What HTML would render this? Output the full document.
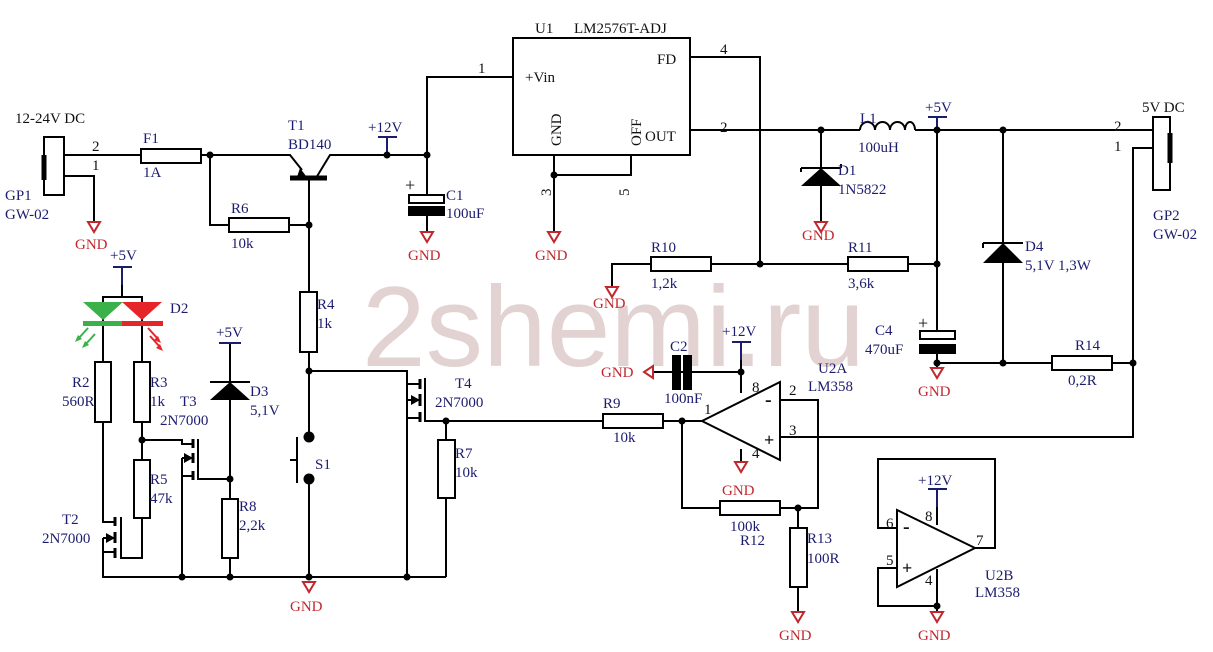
<!DOCTYPE html>
<html><head><meta charset="utf-8"><style>
html,body{margin:0;padding:0;background:#fff}
svg{display:block}
text{font-family:"Liberation Serif",serif;font-size:15px;fill:#1c1c6e}
.g{fill:#c0282d}
.k{fill:#111}
</style></head><body>
<svg width="1213" height="652" viewBox="0 0 1213 652" xmlns="http://www.w3.org/2000/svg">
<text x="362" y="366" textLength="503" lengthAdjust="spacingAndGlyphs" style="font-family:'Liberation Sans',sans-serif;font-size:114px;fill:#e2d2d2">2shemi.ru</text>
<g stroke="#000" stroke-width="2" fill="none">
<!-- GP1 -->
<rect x="44" y="137" width="20" height="58" fill="#fff"/>
<line x1="44" y1="155" x2="44" y2="180" stroke-width="5"/>
<polyline points="64,155 141,155"/>
<polyline points="64,176 94,176 94,222"/>
<rect x="141" y="149" width="60" height="14" fill="#fff"/>
<polyline points="201,155 290,155 302,170"/>
<polyline points="210,155 210,225 229,225"/>
<rect x="229" y="218" width="60" height="14" fill="#fff"/>
<polyline points="289,225 309,225"/>
<line x1="290" y1="178" x2="327" y2="178" stroke-width="5"/>
<polyline points="316,178 330,155 427,155"/>
<polyline points="309,178 309,292"/>
<rect x="300" y="292" width="17" height="60" fill="#fff"/>
<polyline points="309,352 309,437"/>
<polyline points="309,479 309,577"/>
<polyline points="297,437 297,483"/><polyline points="290,460 297,460"/>
<polyline points="387,137 387,155"/>
<polyline points="427,195 427,155 427,77 513,77"/>
<polyline points="427,215 427,232"/>
<rect x="409" y="195" width="35" height="8" fill="#fff"/>
<rect x="409" y="207" width="35" height="8" fill="#000"/>
<!-- T4 -->
<polyline points="309,371 407,371 407,384 420,384"/>
<polyline points="407,384 407,577"/>
<polyline points="407,400 420,400"/>
<polyline points="407,418 420,418"/>
<line x1="420" y1="379" x2="420" y2="389" stroke-width="3"/>
<line x1="420" y1="394" x2="420" y2="406" stroke-width="3"/>
<line x1="420" y1="412" x2="420" y2="422" stroke-width="3"/>
<polyline points="425,378 425,421 603,421"/>
<polyline points="446,421 446,440"/>
<rect x="438" y="440" width="17" height="58" fill="#fff"/>
<polyline points="446,498 446,577"/>
<rect x="603" y="414" width="60" height="14" fill="#fff"/>
<polyline points="663,421 702,421"/>
<!-- bottom rail -->
<polyline points="102,577 446,577"/>
<!-- D2 / R2 R3 -->
<polyline points="122,267 122,297"/>
<polyline points="103,305 103,297 142,297 142,305"/>
<polyline points="103,318 103,362"/>
<polyline points="142,318 142,362"/>
<rect x="95" y="362" width="16" height="60" fill="#fff"/>
<rect x="134" y="362" width="16" height="60" fill="#fff"/>
<polyline points="103,422 103,522 115,522"/>
<polyline points="103,538 115,538"/>
<polyline points="103,552 115,552"/>
<polyline points="103,538 103,577"/>
<line x1="115" y1="517" x2="115" y2="526" stroke-width="3"/>
<line x1="115" y1="532" x2="115" y2="543" stroke-width="3"/>
<line x1="115" y1="548" x2="115" y2="558" stroke-width="3"/>
<polyline points="121,517 121,558 142,558 142,518"/>
<polyline points="142,422 142,460"/>
<rect x="134" y="460" width="16" height="58" fill="#fff"/>
<!-- T3 -->
<polyline points="142,440 182,440 182,444 193,444"/>
<polyline points="182,458 193,458"/>
<polyline points="182,476 193,476"/>
<polyline points="182,458 182,577"/>
<line x1="193" y1="439" x2="193" y2="448" stroke-width="3"/>
<line x1="193" y1="453" x2="193" y2="463" stroke-width="3"/>
<line x1="193" y1="471" x2="193" y2="480" stroke-width="3"/>
<polyline points="198,439 198,479 230,479"/>
<!-- D3 R8 -->
<polyline points="230,343 230,499"/>
<line x1="219" y1="343" x2="241" y2="343" stroke="#1c1c6e"/>
<polyline points="210,382 250,382"/>
<rect x="222" y="499" width="16" height="59" fill="#fff"/>
<polyline points="230,558 230,577"/>
<!-- U1 -->
<rect x="513" y="38" width="177" height="117"/>
<polyline points="690,57 760,57 760,264"/>
<polyline points="690,130 860,130"/>
<polyline points="554,155 554,232"/>
<polyline points="554,175 631,175 631,155"/>
<!-- L1 -->
<path d="M860,130 a7.5,8 0 0 1 15,0 a7.5,8 0 0 1 15,0 a7.5,8 0 0 1 15,0 a5,8 0 0 1 10,0"/>
<polyline points="915,130 1153,130"/>
<polyline points="937,117 937,331"/>
<polyline points="821,130 821,222"/>
<polyline points="801,168 821,168 841,168"/>
<polyline points="801,168 801,172"/><polyline points="841,168 841,164"/>
<rect x="1153" y="117" width="17" height="73" fill="#fff"/>
<line x1="1170" y1="133" x2="1170" y2="163" stroke-width="5"/>
<polyline points="1153,148 1133,148 1133,437 780,437"/>
<polyline points="1003,130 1003,363"/>
<polyline points="983,243 1023,243"/><polyline points="983,243 983,248"/>
<polyline points="612,287 612,264 651,264"/>
<rect x="651" y="257" width="60" height="14" fill="#fff"/>
<polyline points="711,264 848,264"/>
<rect x="848" y="257" width="60" height="14" fill="#fff"/>
<polyline points="908,264 937,264"/>
<rect x="920" y="331" width="35" height="8" fill="#fff"/>
<rect x="920" y="345" width="35" height="8" fill="#000"/>
<polyline points="937,353 937,368"/>
<polyline points="937,363 1052,363"/>
<rect x="1052" y="356" width="60" height="14" fill="#fff"/>
<polyline points="1112,363 1133,363"/>
<!-- U2A -->
<polygon points="702,421 780,382 780,460" fill="#fff"/>
<polyline points="780,400 818,400 818,508 780,508"/>
<polyline points="682,421 682,508 720,508"/>
<rect x="720" y="501" width="60" height="14" fill="#fff"/>
<polyline points="798,508 798,528"/>
<rect x="790" y="528" width="17" height="59" fill="#fff"/>
<polyline points="798,587 798,612"/>
<polyline points="741,342 741,393"/>
<polyline points="741,449 741,462"/>
<polyline points="654,372 741,372"/>
<rect x="673" y="356" width="7" height="33" fill="#000"/>
<rect x="684" y="356" width="7" height="33" fill="#000"/>
<!-- U2B -->
<polygon points="897,510 975,548 897,587" fill="#fff"/>
<polyline points="897,528 878,528 878,459 995,459 995,548 975,548"/>
<polyline points="897,568 878,568 878,606 937,606 937,569"/>
<polyline points="937,606 937,612"/>
<polyline points="937,489 937,525"/>
</g>
<!-- blue supply bars -->
<g stroke="#1c1c6e" stroke-width="2">
<line x1="378" y1="137" x2="397" y2="137"/><line x1="387" y1="137" x2="387" y2="152"/>
<line x1="113" y1="267" x2="132" y2="267"/><line x1="122" y1="267" x2="122" y2="285"/>
<line x1="928" y1="117" x2="947" y2="117"/><line x1="937" y1="117" x2="937" y2="127"/>
<line x1="732" y1="342" x2="751" y2="342"/><line x1="741" y1="342" x2="741" y2="360"/>
<line x1="928" y1="489" x2="947" y2="489"/><line x1="937" y1="489" x2="937" y2="507"/>
</g>
<!-- filled shapes -->
<polygon points="296,180 306,176 300,168" fill="#000"/>
<polygon points="210,400 250,400 230,382" fill="#000"/>
<polygon points="801,186 841,186 821,168" fill="#000"/>
<polygon points="983,263 1023,263 1003,243" fill="#000"/>
<polygon points="420,400 411,395 411,405" fill="#000"/>
<polygon points="193,458 184,453 184,463" fill="#000"/>
<polygon points="115,538 106,533 106,543" fill="#000"/>
<!-- D2 -->
<polygon points="83,302 123,302 103,320" fill="#3bb14a"/>
<polygon points="122,302 162,302 142,320" fill="#e52528"/>
<rect x="83" y="321" width="40" height="5" fill="#3bb14a"/>
<rect x="122" y="321" width="41" height="5" fill="#e52528"/>
<g stroke="#3bb14a" stroke-width="2"><line x1="88" y1="328" x2="78" y2="339"/><line x1="95" y1="334" x2="85" y2="345"/></g>
<polygon points="75,342 82,339 78,335" fill="#3bb14a"/><polygon points="82,348 89,345 85,341" fill="#3bb14a"/>
<g stroke="#e52528" stroke-width="2"><line x1="148" y1="328" x2="158" y2="339"/><line x1="150" y1="336" x2="160" y2="347"/></g>
<polygon points="161,343 154,340 158,336" fill="#e52528"/><polygon points="163,351 156,348 160,344" fill="#e52528"/>
<!-- junction dots -->
<g fill="#000">
<circle cx="210" cy="155" r="3.5"/><circle cx="309" cy="225" r="3.5"/><circle cx="387" cy="155" r="3.5"/><circle cx="427" cy="155" r="3.5"/>
<circle cx="309" cy="371" r="3.5"/><circle cx="446" cy="421" r="3.5"/><circle cx="142" cy="440" r="3.5"/><circle cx="230" cy="479" r="3.5"/>
<circle cx="182" cy="577" r="3.5"/><circle cx="230" cy="577" r="3.5"/><circle cx="309" cy="577" r="3.5"/><circle cx="407" cy="577" r="3.5"/>
<circle cx="309" cy="437" r="5.5"/><circle cx="309" cy="479" r="5.5"/>
<circle cx="554" cy="175" r="3.5"/><circle cx="821" cy="130" r="3.5"/><circle cx="937" cy="130" r="3.5"/><circle cx="1003" cy="130" r="3.5"/>
<circle cx="760" cy="264" r="3.5"/><circle cx="937" cy="264" r="3.5"/><circle cx="937" cy="363" r="3.5"/><circle cx="1003" cy="363" r="3.5"/><circle cx="1133" cy="363" r="3.5"/>
<circle cx="741" cy="372" r="3.5"/><circle cx="682" cy="421" r="3.5"/><circle cx="798" cy="508" r="3.5"/><circle cx="937" cy="606" r="3.5"/>
</g>
<!-- GND symbols -->
<g stroke="#c0282d" stroke-width="2" fill="none">
<polygon points="88,222 100,222 94,232"/>
<polygon points="421,232 433,232 427,242"/>
<polygon points="548,232 560,232 554,242"/>
<polygon points="815,222 827,222 821,232"/>
<polygon points="606,287 618,287 612,297"/>
<polygon points="931,368 943,368 937,378"/>
<polygon points="303,582 315,582 309,592"/>
<polygon points="735,462 747,462 741,472"/>
<polygon points="792,612 804,612 798,622"/>
<polygon points="931,612 943,612 937,622"/>
<polygon points="653,366 653,378 644,372"/>
</g>
<g class="g">
<text class="g" x="75" y="249">GND</text>
<text class="g" x="408" y="260">GND</text>
<text class="g" x="535" y="260">GND</text>
<text class="g" x="802" y="240">GND</text>
<text class="g" x="593" y="308">GND</text>
<text class="g" x="918" y="396">GND</text>
<text class="g" x="290" y="611">GND</text>
<text class="g" x="722" y="495">GND</text>
<text class="g" x="779" y="640">GND</text>
<text class="g" x="918" y="640">GND</text>
<text class="g" x="601" y="377">GND</text>
</g>
<!-- labels -->
<text class="k" x="15" y="123">12-24V DC</text>
<text class="k" x="92" y="151">2</text><text class="k" x="92" y="170">1</text>
<text x="5" y="200">GP1</text><text x="5" y="219">GW-02</text>
<text x="143" y="143">F1</text><text x="143" y="177">1A</text>
<text x="288" y="130">T1</text><text x="288" y="149">BD140</text>
<text x="368" y="132">+12V</text>
<text x="446" y="200">C1</text><text x="446" y="218">100uF</text>
<text x="231" y="213">R6</text><text x="231" y="248">10k</text>
<text x="110" y="260">+5V</text>
<text x="170" y="313">D2</text>
<text x="317" y="309">R4</text><text x="317" y="328">1k</text>
<text x="216" y="337">+5V</text>
<text x="72" y="387">R2</text><text x="62" y="406">560R</text>
<text x="150" y="387">R3</text><text x="150" y="406">1k</text>
<text x="180" y="406">T3</text><text x="160" y="425">2N7000</text>
<text x="250" y="396">D3</text><text x="250" y="415">5,1V</text>
<text x="150" y="484">R5</text><text x="150" y="503">47k</text>
<text x="62" y="524">T2</text><text x="42" y="543">2N7000</text>
<text x="239" y="511">R8</text><text x="239" y="530">2,2k</text>
<text x="315" y="469">S1</text>
<text x="455" y="388">T4</text><text x="435" y="407">2N7000</text>
<text x="455" y="458">R7</text><text x="455" y="477">10k</text>
<text x="603" y="408">R9</text><text x="613" y="442">10k</text>
<text class="k" x="478" y="73">1</text>
<text class="k" x="535" y="33">U1</text><text class="k" x="574" y="33">LM2576T-ADJ</text>
<text class="k" x="525" y="82">+Vin</text>
<text class="k" x="657" y="64">FD</text>
<text class="k" x="645" y="141">OUT</text>
<text class="k" transform="translate(561,146) rotate(-90)">GND</text>
<text class="k" transform="translate(641,146) rotate(-90)">OFF</text>
<text class="k" transform="translate(551,196) rotate(-90)">3</text>
<text class="k" transform="translate(629,196) rotate(-90)">5</text>
<text class="k" x="720" y="54">4</text><text class="k" x="720" y="132">2</text>
<text x="860" y="123">L1</text><text x="858" y="152">100uH</text>
<text x="925" y="112">+5V</text>
<text x="838" y="175">D1</text><text x="838" y="194">1N5822</text>
<text class="k" x="1142" y="112">5V DC</text>
<text class="k" x="1114" y="131">2</text><text class="k" x="1114" y="151">1</text>
<text x="1153" y="220">GP2</text><text x="1153" y="239">GW-02</text>
<text x="1025" y="251">D4</text><text x="1025" y="270">5,1V 1,3W</text>
<text x="651" y="252">R10</text><text x="651" y="288">1,2k</text>
<text x="848" y="252">R11</text><text x="848" y="288">3,6k</text>
<text x="875" y="335">C4</text><text x="865" y="354">470uF</text>
<text class="k" x="918" y="329" style="font-size:18px">+</text>
<text class="k" x="405" y="191" style="font-size:18px">+</text>
<text x="1075" y="350">R14</text><text x="1068" y="385">0,2R</text>
<text x="670" y="351">C2</text><text x="664" y="403">100nF</text>
<text x="722" y="336">+12V</text>
<text x="818" y="373">U2A</text><text x="808" y="391">LM358</text>
<text class="k" x="752" y="392">8</text><text class="k" x="752" y="458">4</text>
<text class="k" x="704" y="414">1</text>
<text class="k" x="789" y="395">2</text><text class="k" x="789" y="435">3</text>
<text class="k" x="765" y="406" style="font-size:20px;font-weight:bold">-</text>
<text class="k" x="764" y="446" style="font-size:18px;font-weight:bold">+</text>
<text x="730" y="531">100k</text><text x="740" y="545">R12</text>
<text x="807" y="543">R13</text><text x="807" y="563">100R</text>
<text x="918" y="485">+12V</text>
<text class="k" x="886" y="528">6</text><text class="k" x="886" y="565">5</text>
<text class="k" x="925" y="521">8</text><text class="k" x="925" y="585">4</text>
<text class="k" x="976" y="545">7</text>
<text class="k" x="903" y="533" style="font-size:20px;font-weight:bold">-</text>
<text class="k" x="902" y="574" style="font-size:18px;font-weight:bold">+</text>
<text x="985" y="580">U2B</text><text x="975" y="597">LM358</text>
</svg>
</body></html>
